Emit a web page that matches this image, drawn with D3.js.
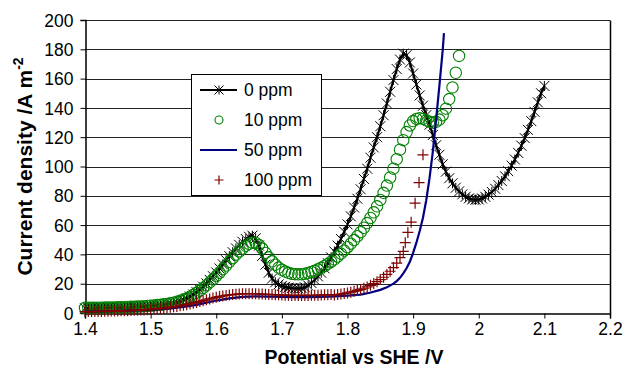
<!DOCTYPE html>
<html><head><meta charset="utf-8">
<script src="https://cdn.jsdelivr.net/npm/d3@7/dist/d3.min.js"></script>
<style>body{margin:0;background:#fff}svg{display:block}text{font-family:"Liberation Sans",Arial,sans-serif}</style>
</head><body><div id="chart"></div>
<script>
const xTicks = [1.4,1.5,1.6,1.7,1.8,1.9,2.0,2.1,2.2];
const xTickLabels = ["1.4","1.5","1.6","1.7","1.8","1.9","2","2.1","2.2"];
const yTicks = [0,20,40,60,80,100,120,140,160,180,200];
const seriesNames = ["0 ppm","10 ppm","50 ppm","100 ppm"];

// 0 ppm
const potential0 = [1.400,1.405,1.410,1.415,1.420,1.425,1.430,1.435,1.440,1.445,1.450,1.455,1.460,1.465,1.470,1.475,1.480,1.485,1.490,1.495,
1.500,1.505,1.510,1.515,1.520,1.525,1.530,1.535,1.540,1.545,1.550,1.555,1.560,1.565,1.570,1.575,1.580,1.585,1.590,1.595,
1.600,1.605,1.610,1.615,1.620,1.625,1.630,1.635,1.640,1.645,1.650,1.655,1.660,1.665,1.670,1.675,1.680,1.685,1.690,1.695,
1.700,1.705,1.710,1.715,1.720,1.725,1.730,1.735,1.740,1.745,1.750,1.755,1.760,1.765,1.770,1.775,1.780,1.785,1.790,1.795,
1.800,1.805,1.810,1.815,1.820,1.825,1.830,1.835,1.840,1.845,1.850,1.855,1.860,1.865,1.870,1.875,1.880,1.885,1.890,1.895,
1.900,1.905,1.910,1.915,1.920,1.925,1.930,1.935,1.940,1.945,1.950,1.955,1.960,1.965,1.970,1.975,1.980,1.985,1.990,1.995,
2.000,2.005,2.010,2.015,2.020,2.025,2.030,2.035,2.040,2.045,2.050,2.055,2.060,2.065,2.070,2.075,2.080,2.085,2.090,2.095,2.100];
const current0 = [3.2,3.2,3.2,3.2,3.3,3.3,3.4,3.4,3.5,3.5,3.6,3.7,3.7,3.8,3.9,4.0,4.1,4.2,4.3,4.5,
4.7,4.9,5.1,5.4,5.7,6.0,6.4,6.9,7.5,8.2,9.0,10.0,11.2,12.6,14.2,16.0,18.0,20.2,22.6,25.1,
27.7,30.4,33.2,36.0,38.8,41.5,44.1,46.5,48.6,50.5,52.0,52.8,51.0,46.0,39.0,33.0,27.5,23.5,21.0,19.5,
18.5,17.8,17.3,17.0,16.8,16.8,17.0,17.5,18.8,20.5,22.5,25.0,27.5,30.5,34.0,38.0,42.0,46.0,50.5,55.5,
60.5,66.0,72.0,78.0,84.5,91.5,98.5,106.0,113.0,120.0,127.5,135.0,143.0,151.0,159.0,166.5,173.0,177.0,176.0,171.0,
163.5,156.0,148.5,141.5,135.0,128.5,121.5,114.5,108.0,101.5,96.5,92.0,88.5,85.5,83.0,81.0,79.3,78.2,77.5,77.3,
77.5,78.2,79.3,80.8,82.6,84.8,87.3,90.1,93.3,96.8,100.6,104.8,109.3,114.2,119.4,125.0,131.0,137.3,143.8,150.0,155.0];

// 10 ppm
const potential10 = [1.400,1.405,1.410,1.415,1.420,1.425,1.430,1.435,1.440,1.445,1.450,1.455,1.460,1.465,1.470,1.475,1.480,1.485,1.490,1.495,
1.500,1.505,1.510,1.515,1.520,1.525,1.530,1.535,1.540,1.545,1.550,1.555,1.560,1.565,1.570,1.575,1.580,1.585,1.590,1.595,
1.600,1.605,1.610,1.615,1.620,1.625,1.630,1.635,1.640,1.645,1.650,1.655,1.660,1.665,1.670,1.675,1.680,1.685,1.690,1.695,
1.700,1.705,1.710,1.715,1.720,1.725,1.730,1.735,1.740,1.745,1.750,1.755,1.760,1.765,1.770,1.775,1.780,1.785,1.790,1.795,
1.800,1.805,1.810,1.815,1.820,1.825,1.830,1.835,1.840,1.845,1.850,1.855,1.860,1.865,1.870,1.875,1.880,1.885,1.890,1.895,
1.900,1.905,1.910,1.915,1.920,1.925,1.930,1.935,1.940,1.945,1.950,1.955,1.960,1.965,1.970];
const current10 = [3.5,3.5,3.5,3.5,3.6,3.6,3.7,3.7,3.8,3.8,3.9,4.0,4.0,4.1,4.2,4.3,4.4,4.5,4.6,4.8,
5.0,5.2,5.4,5.6,5.9,6.2,6.6,7.0,7.6,8.3,9.1,10.0,11.1,12.4,13.8,15.3,17.0,18.9,20.9,23.0,
25.2,27.5,29.9,32.4,34.9,37.4,39.8,42.0,44.0,45.8,47.2,48.0,47.8,46.5,44.0,41.0,38.0,35.3,33.0,31.0,
29.5,28.3,27.4,26.8,26.5,26.4,26.5,26.8,27.3,28.0,28.8,29.8,30.9,32.1,33.5,35.0,36.7,38.5,40.5,42.6,
44.9,47.3,49.8,52.4,55.2,58.2,61.4,64.9,68.7,72.8,77.2,82.0,87.0,92.5,98.5,105.0,111.5,118.0,123.5,128.0,
131.0,132.5,133.0,132.5,131.5,130.5,130.0,130.5,132.0,135.0,139.5,146.0,154.0,164.0,175.5];

// 50 ppm
const potential50 = [1.40,1.45,1.50,1.53,1.55,1.57,1.59,1.60,1.62,1.64,1.66,1.68,1.70,1.72,1.74,1.76,1.78,1.80,1.82,1.834,
1.85,1.86,1.87,1.875,1.88,1.885,1.89,1.895,1.90,1.905,1.91,1.915,1.92,1.925,1.93,1.935,1.94,1.945,1.947];
const current50 = [1.0,1.4,2.2,3.2,4.2,5.6,7.5,8.5,10.0,11.0,11.3,11.2,11.0,10.9,10.9,11.0,11.3,11.8,12.6,13.8,
15.8,17.5,20.0,21.8,24.0,27.0,30.5,35.0,41.0,48.0,56.0,65.0,77.0,92.0,110.0,132.0,155.0,179.0,191.0];

// 100 ppm
const potential100 = [1.400,1.405,1.410,1.415,1.420,1.425,1.430,1.435,1.440,1.445,1.450,1.455,1.460,1.465,1.470,1.475,1.480,1.485,1.490,1.495,
1.500,1.505,1.510,1.515,1.520,1.525,1.530,1.535,1.540,1.545,1.550,1.555,1.560,1.565,1.570,1.575,1.580,1.585,1.590,1.595,
1.600,1.605,1.610,1.615,1.620,1.625,1.630,1.635,1.640,1.645,1.650,1.655,1.660,1.665,1.670,1.675,1.680,1.685,1.690,1.695,
1.700,1.705,1.710,1.715,1.720,1.725,1.730,1.735,1.740,1.745,1.750,1.755,1.760,1.765,1.770,1.775,1.780,1.785,1.790,1.795,
1.800,1.805,1.810,1.815,1.820,1.825,1.830,1.835,1.840,1.845,1.850,1.855,1.860,1.865,1.870,1.875,1.880,1.885,
1.888,1.892,1.897,1.903,1.909,1.915];
const current100 = [1.0,1.0,1.0,1.0,1.1,1.1,1.2,1.2,1.3,1.3,1.4,1.5,1.5,1.6,1.7,1.8,1.9,2.0,2.1,2.3,
2.5,2.7,2.9,3.1,3.3,3.6,3.9,4.2,4.5,4.9,5.3,5.7,6.2,6.7,7.2,7.8,8.4,9.0,9.6,10.2,
10.7,11.2,11.6,12.0,12.3,12.6,12.8,13.0,13.1,13.2,13.2,13.2,13.1,13.0,12.9,12.8,12.7,12.6,12.5,12.4,
12.3,12.2,12.1,12.0,12.0,12.0,12.0,12.0,12.0,12.1,12.1,12.2,12.3,12.4,12.5,12.6,12.3,12.6,12.9,13.3,
13.7,14.2,14.8,15.4,16.1,16.9,17.8,18.9,20.1,21.4,22.8,24.4,26.3,28.5,31.0,34.0,37.8,42.0,
48.0,55.0,62.0,75.0,89.0,108.0];

const W = 625, H = 372;
const m = {left:85, right:15, top:20, bottom:59};
const svg = d3.select("#chart").append("svg").attr("width",W).attr("height",H);
const x = d3.scaleLinear().domain([1.4,2.2]).range([m.left, W-m.right]);
const y = d3.scaleLinear().domain([0,200]).range([H-m.bottom, m.top]);

// gridlines
svg.append("g").selectAll("line").data(yTicks.filter(d=>d>0)).join("line")
  .attr("x1",x(1.4)).attr("x2",x(2.2))
  .attr("y1",d=>Math.round(y(d))+0.5).attr("y2",d=>Math.round(y(d))+0.5)
  .attr("stroke","#222").attr("stroke-width",1);
// right border
svg.append("line").attr("x1",Math.round(x(2.2))+0.5).attr("x2",Math.round(x(2.2))+0.5)
  .attr("y1",Math.round(y(200))+0.5).attr("y2",Math.round(y(0))+0.5).attr("stroke","#000").attr("stroke-width",1.5);

// axes
const xAxis = d3.axisBottom(x).tickValues(xTicks).tickFormat((d,i)=>xTickLabels[i]).tickSize(5).tickPadding(4);
const gx = svg.append("g").attr("transform",`translate(0,${Math.round(y(0))+0.5})`).call(xAxis);
const yAxis = d3.axisLeft(y).tickValues(yTicks).tickSize(5).tickPadding(7);
const gy = svg.append("g").attr("transform",`translate(${Math.round(x(1.4))+0.5},0)`).call(yAxis);
[gx,gy].forEach(g=>{
  g.select(".domain").attr("stroke","#000").attr("stroke-width",1.5);
  g.selectAll(".tick line").attr("stroke","#000");
  g.selectAll("text").attr("font-size",17.5).attr("fill","#000").style("font-family","'Liberation Sans',Arial,sans-serif");
});
gy.selectAll(".tick text").attr("dy","0.35em");

// axis titles
svg.append("text").attr("x",354).attr("y",364).attr("text-anchor","middle")
  .attr("font-size",19.5).attr("font-weight","bold").text("Potential vs SHE /V");
const yt = svg.append("text").attr("transform",`translate(32,${(y(0)+y(200))/2}) rotate(-90)`)
  .attr("text-anchor","middle").attr("font-size",21).attr("font-weight","bold");
yt.append("tspan").text("Current density /A m");
yt.append("tspan").attr("dy",-9).attr("font-size",14).text("-2");

const starPath = s => `M${-s},${-s}L${s},${s}M${-s},${s}L${s},${-s}M0,${-s}L0,${s}`;
const plusPath = s => `M${-s},0L${s},0M0,${-s}L0,${s}`;

const d0 = potential0.map((p,i)=>[p,current0[i]]);
const d10 = potential10.map((p,i)=>[p,current10[i]]);
const d50 = potential50.map((p,i)=>[p,current50[i]]);
const d100 = potential100.map((p,i)=>[p,current100[i]]);
const line = d3.line().x(d=>x(d[0])).y(d=>y(d[1]));

// 0 ppm
svg.append("path").datum(d0).attr("d",line).attr("fill","none").attr("stroke","#000").attr("stroke-width",2.2);
svg.append("g").selectAll("path").data(d0).join("path")
  .attr("transform",d=>`translate(${x(d[0])},${y(d[1])})`).attr("d",starPath(5))
  .attr("stroke","#000").attr("stroke-width",1).attr("fill","none");
// 10 ppm
svg.append("g").selectAll("circle").data(d10).join("circle")
  .attr("cx",d=>x(d[0])).attr("cy",d=>y(d[1])).attr("r",5.7)
  .attr("fill","none").attr("stroke","#008000").attr("stroke-width",1.1);
// 50 ppm
svg.append("path").datum(d50).attr("d",line).attr("fill","none").attr("stroke","#000080").attr("stroke-width",2.2);
// 100 ppm
svg.append("g").selectAll("path").data(d100).join("path")
  .attr("transform",d=>`translate(${x(d[0])},${y(d[1])})`).attr("d",plusPath(5.5))
  .attr("stroke","#800000").attr("stroke-width",1.2).attr("fill","none");

// legend
const lg = svg.append("g");
lg.append("rect").attr("x",191.5).attr("y",74.5).attr("width",130).attr("height",121)
  .attr("fill","#fff").attr("stroke","#000").attr("stroke-width",1);
const rows = [90,120,150,180];
seriesNames.forEach((nm,i)=>{
  const ry = rows[i];
  const g = lg.append("g");
  if(i===0){
    g.append("line").attr("x1",200).attr("x2",237).attr("y1",ry).attr("y2",ry).attr("stroke","#000").attr("stroke-width",2.2);
    g.append("path").attr("transform",`translate(219,${ry})`).attr("d",starPath(4.5)).attr("stroke","#000").attr("fill","none");
  } else if(i===1){
    g.append("circle").attr("cx",219).attr("cy",ry).attr("r",4).attr("fill","none").attr("stroke","#008000").attr("stroke-width",1.1);
  } else if(i===2){
    g.append("line").attr("x1",200).attr("x2",237).attr("y1",ry).attr("y2",ry).attr("stroke","#000080").attr("stroke-width",2.2);
  } else {
    g.append("path").attr("transform",`translate(219,${ry})`).attr("d",plusPath(4.5)).attr("stroke","#800000").attr("stroke-width",1.2).attr("fill","none");
  }
  g.append("text").attr("x",244).attr("y",ry).attr("dy","0.35em").attr("font-size",17.5).text(nm);
});
</script></body></html>
